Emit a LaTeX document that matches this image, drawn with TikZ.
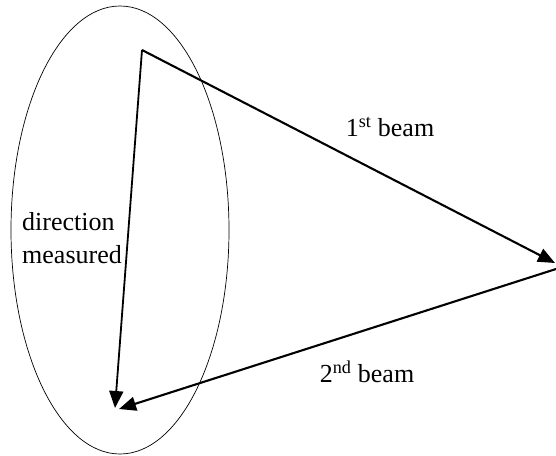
\documentclass[tikz,border=0pt]{standalone}
\usepackage{fontspec}
\setmainfont{Liberation Serif}
\newfontfamily\beamfont{Liberation Serif}
\usepackage{tikz}
\usetikzlibrary{positioning,shapes.geometric,arrows.meta}

\tikzset{
    beam/.style={line width=2.1pt, -{Triangle[length=17pt,width=14pt]}},
    lbl/.style={font=\beamfont\fontsize{26}{33}\selectfont, inner sep=0pt}
}

\begin{document}
\begin{tikzpicture}[x=1pt, y=-1pt]
    \useasboundingbox (0,0) rectangle (556,455);

    % region of measured directions
    \node [draw, ellipse, line width=0.7pt, minimum width=218pt, minimum height=448pt, inner sep=0pt] (region) at (120,230) {};

    \coordinate (src) at (142,50);
    \coordinate (refl) at (555,263);
    \coordinate (start2) at (556,269);
    \coordinate (dir) at (115,408);
    \coordinate (ret) at (119,409);

    \draw [beam] (src) -- (refl);
    \draw [beam] (start2) -- (ret);
    \draw [beam, line width=1.8pt] (src) -- (dir);

    \node [lbl] (first) at (390,127) {1\textsuperscript{st} beam};
    \node [lbl] (second) at (367,372) {2\textsuperscript{nd} beam};
    \node [lbl, align=left, anchor=west] (meas) at (22,238) {direction\\measured};
\end{tikzpicture}
\end{document}
